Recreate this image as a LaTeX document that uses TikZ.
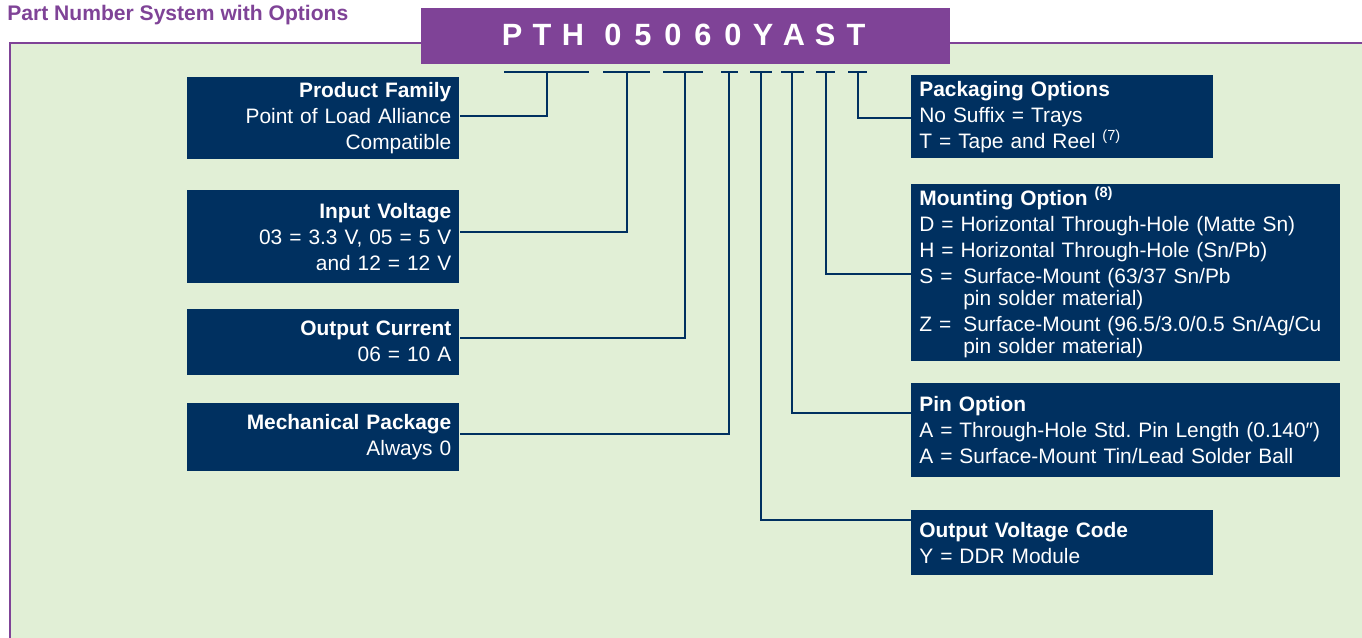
\documentclass[tikz,border=0pt]{standalone}
\usepackage{fontspec}
\setmainfont{Liberation Sans}
\usetikzlibrary{positioning}
\definecolor{tipurple}{RGB}{127,67,151}
\definecolor{tinavy}{RGB}{0,48,96}
\definecolor{tigreen}{RGB}{225,239,214}
\newcommand{\optrow}[2]{\makebox[0.88cm][l]{#1}#2}
\newcommand{\optcont}[1]{\hspace*{0.88cm}#1}
\frenchspacing

\begin{document}
\begin{tikzpicture}[
    x=0.02cm, y=-0.02cm,
    node distance=0.5cm,
    frame/.style={draw=tipurple, fill=tigreen, line width=0.05cm},
    pnband/.style={rectangle, fill=tipurple, anchor=north west,
                   minimum width=10.58cm, minimum height=1.12cm, inner sep=0},
    pnchar/.style={text=white, anchor=base, inner sep=0,
                   font=\fontsize{17.5pt}{21pt}\selectfont\bfseries},
    lbox/.style={rectangle, fill=tinavy, text=white, inner xsep=0.16cm,
                 inner ysep=0pt, text width=5.12cm, align=right,
                 font=\fontsize{11.9pt}{14.8pt}\selectfont},
    rbox/.style={rectangle, fill=tinavy, text=white, inner xsep=0.16cm,
                 inner ysep=0pt, text width=#1, align=left,
                 font=\fontsize{11.9pt}{14.8pt}\selectfont},
    conn/.style={draw=tinavy, line width=0.05cm},
    ttl/.style={text=tipurple, anchor=base west, inner sep=0,
                font=\fontsize{12pt}{14pt}\selectfont\bfseries}
]
\useasboundingbox (0,0) rectangle (1362,637);

% Frame and heading
\draw[frame] (10,43) rectangle (1420,700);
\node[ttl] (title) at (7,20) {Part Number System with Options};
\node[pnband] (band) at (421,8) {};
\foreach \ch/\x in {P/512, T/542, H/573, 0/613, 5/643, 0/673,
                    6/703, 0/733, Y/763, A/794, S/825, T/856}
  \node[pnchar] at (\x,45) {\ch};

% Left: code fields
\node[lbox, minimum height=1.64cm, anchor=north west] (fam) at (187,77)
  {\textbf{Product Family}\\Point of Load Alliance\\Compatible};
\node[lbox, minimum height=1.86cm, below=0.6cm of fam] (vin)
  {\textbf{Input Voltage}\\03 = 3.3 V, 05 = 5 V\\and 12 = 12 V};
\node[lbox, minimum height=1.32cm, below=0.5cm of vin] (iout)
  {\textbf{Output Current}\\06 = 10 A};
\node[lbox, minimum height=1.36cm, below=0.56cm of iout] (mech)
  {\textbf{Mechanical Package}\\Always 0};

% Right: option suffixes
\node[rbox=5.72cm, minimum height=1.66cm, anchor=north west] (pack) at (911,75)
  {\textbf{Packaging Options}\\No Suffix = Trays\\T = Tape and Reel \textsuperscript{(7)}};
\node[rbox=8.26cm, minimum height=3.54cm, below=0.5cm of pack.south west,
      anchor=north west] (mount)
  {\textbf{Mounting Option \textsuperscript{(8)}}\\
   D = Horizontal Through-Hole (Matte Sn)\\
   H = Horizontal Through-Hole (Sn/Pb)\\
   \optrow{S =}{Surface-Mount (63/37 Sn/Pb}\\[-2.2pt]
   \optcont{pin solder material)}\\
   \optrow{Z =}{Surface-Mount (96.5/3.0/0.5 Sn/Ag/Cu}\\[-2.2pt]
   \optcont{pin solder material)}};
\node[rbox=8.26cm, minimum height=1.88cm, below=0.42cm of mount] (pin)
  {\textbf{Pin Option}\\A = Through-Hole Std. Pin Length (0.140″)\\
   A = Surface-Mount Tin/Lead Solder Ball};
\node[rbox=5.72cm, minimum height=1.3cm, below=0.66cm of pin.south west,
      anchor=north west] (vout)
  {\textbf{Output Voltage Code}\\Y = DDR Module};

% Bars under the code and taps
\foreach \a/\b in {504/589, 603/650, 663/703, 721/738,
                   750/772, 781/804, 816/835, 848/867}
  \draw[conn] (\a,72) -- (\b,72);
\foreach \n/\x in {fam/547, vin/627, iout/685, mech/729,
                   vout/761, pin/792, mount/826, pack/858}
  \coordinate (t\n) at (\x,72);

% Connectors
\draw[conn] (tfam) |- (fam.east |- 0,116);
\draw[conn] (tvin) |- (vin.east |- 0,232);
\draw[conn] (tiout) |- (iout.east |- 0,338);
\draw[conn] (tmech) |- (mech.east |- 0,434);
\draw[conn] (tvout) |- (vout.west |- 0,520);
\draw[conn] (tpin) |- (pin.west |- 0,413);
\draw[conn] (tmount) |- (mount.west |- 0,274);
\draw[conn] (tpack) |- (pack.west |- 0,118);

\end{tikzpicture}
\end{document}
